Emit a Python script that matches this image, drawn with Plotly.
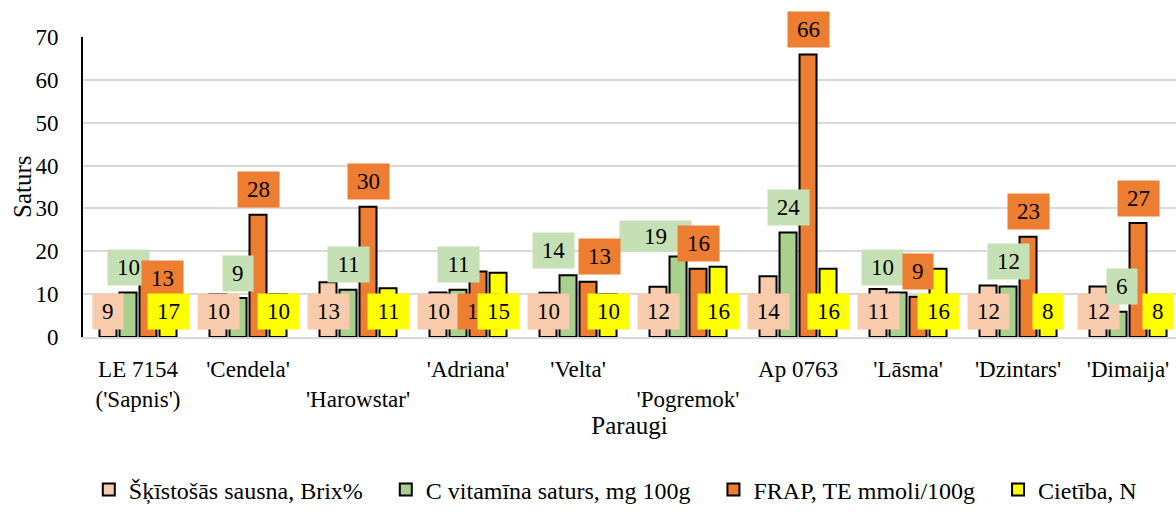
import plotly.graph_objects as go

# ---- data ----
categories = ["LE 7154 ('Sapnis')", "'Cendela'", "'Harowstar'", "'Adriana'", "'Velta'",
              "'Pogremok'", "Ap 0763", "'Lāsma'", "'Dzintars'", "'Dimaija'"]
tick_labels = ["LE 7154<br>('Sapnis')", "'Cendela'", " <br>'Harowstar'", "'Adriana'", "'Velta'",
               " <br>'Pogremok'", "Ap 0763", "'Lāsma'", "'Dzintars'", "'Dimaija'"]

series_names = ["Šķīstošās sausna, Brix%", "C vitamīna saturs, mg 100g",
                "FRAP, TE mmoli/100g", "Cietība, N"]
brix = [9.2, 10.0, 12.8, 10.4, 10.3, 11.7, 14.2, 11.2, 12.0, 11.8]
vitc = [10.4, 9.1, 11.0, 11.0, 14.4, 18.8, 24.4, 10.4, 11.8, 5.9]
frap = [13.0, 28.5, 30.4, 15.3, 12.9, 15.9, 65.9, 9.4, 23.4, 26.6]
ciet = [17.0, 10.0, 11.4, 15.0, 10.0, 16.4, 15.9, 15.9, 8.0, 8.0]

# ---- styles ----
FONT = "Liberation Serif, serif"
bar_colors = ["#F8CBAD", "#A9D18E", "#ED7D31", "#FFFF00"]
label_colors = ["#F8CBAD", "#C5E0B4", "#ED7D31", "#FFFF00"]
bar_offsets_px = [-30, -10, 10, 30]
label_mode = ["base", "end", "end", "base"]
legend_pad = "\u00a0" * 3
# per-label manual adjustments (series index, category index) -> settings
label_tweaks = {
    (1, 4): dict(dx=-15),
    (1, 5): dict(dx=-23, dy=-5, w=71, h=30),
    (1, 7): dict(dx=-16),
    (1, 9): dict(dx=4),
    (2, 0): dict(dx=14, dy=-22),
    (2, 3): dict(mode="base"),
    (2, 4): dict(dx=11),
}

all_series = [brix, vitc, frap, ciet]

fig = go.Figure()
for k, (name, vals, col) in enumerate(zip(series_names, all_series, bar_colors)):
    fig.add_trace(go.Bar(
        x=categories, y=vals, name=name + (legend_pad if k < 3 else ""),
        marker=dict(color=col, line=dict(color="black", width=2)),
    ))

annotations = []
for s, vals in enumerate(all_series):
    for i, v in enumerate(vals):
        t = label_tweaks.get((s, i), {})
        mode = t.get("mode", label_mode[s])
        txt = f"{v:.0f}"
        w = t.get("w", 11.5 * len(txt) + 18)
        h = t.get("h", 35)
        if mode == "base":
            yv, ysh = 0, 26
        else:
            yv, ysh = v, 25 + t.get("dy", 0)
        annotations.append(dict(
            x=categories[i], y=yv, xref="x", yref="y", text=txt, showarrow=False,
            font=dict(family=FONT, size=23, color="black"),
            bgcolor=label_colors[s], width=w, height=h, borderpad=0,
            xanchor="center", yanchor="middle",
            xshift=bar_offsets_px[s] + t.get("dx", 0), yshift=ysh,
        ))

# y-axis title as rotated text
annotations.append(dict(
    x=0, y=0.5, xref="paper", yref="paper", text="Saturs", showarrow=False,
    textangle=-90, font=dict(family=FONT, size=25, color="black"),
    xanchor="center", yanchor="middle", xshift=-61,
))

fig.update_layout(
    width=1176, height=513,
    margin=dict(l=83, r=0, t=37, b=176),
    paper_bgcolor="white", plot_bgcolor="white",
    font=dict(family=FONT, size=23, color="black"),
    barmode="group", bargap=0.2727, bargroupgap=0.15,
    annotations=annotations,
    showlegend=True,
    legend=dict(orientation="h", x=0.487, xanchor="center", y=-0.585, yanchor="bottom",
                font=dict(family=FONT, size=24, color="black"), traceorder="normal"),
)
fig.update_xaxes(
    range=[-0.5, 9.436], tickmode="array", tickvals=categories, ticktext=tick_labels,
    showline=True, linecolor="#D9D9D9", linewidth=2, showgrid=False, ticks="",
    tickfont=dict(family=FONT, size=23), ticklabelstandoff=10, automargin=False,
    title=dict(text="Paraugi", font=dict(family=FONT, size=25), standoff=2),
)
fig.update_yaxes(
    range=[0, 70], dtick=10, showgrid=True, gridcolor="#D9D9D9", gridwidth=2,
    showline=True, linecolor="black", linewidth=2, zeroline=False, ticks="",
    tickfont=dict(family=FONT, size=23), ticklabelstandoff=18, automargin=False,
)

fig.write_html("out.html", config={"displayModeBar": False},
               post_script="document.body.style.margin='0';")
